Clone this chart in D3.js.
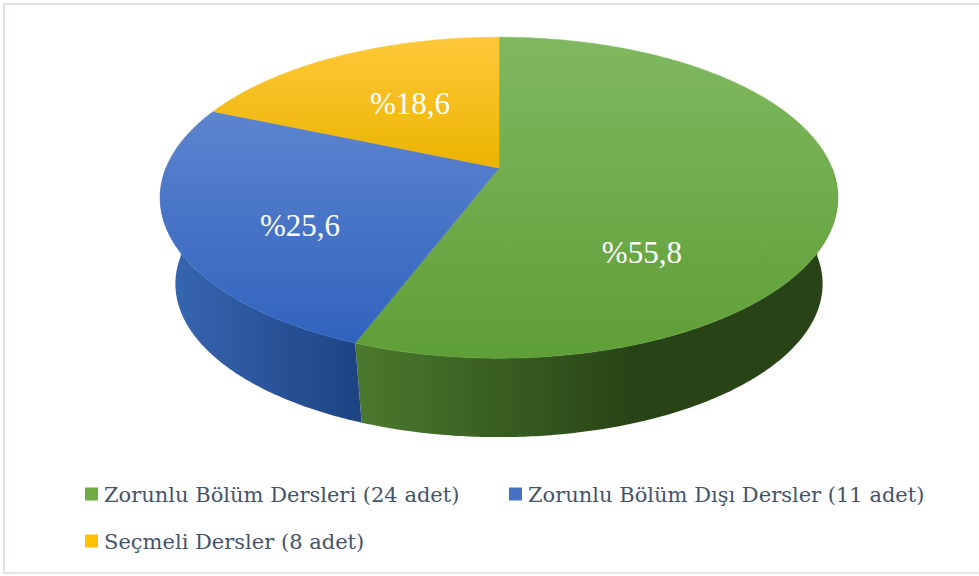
<!DOCTYPE html>
<html>
<head>
<meta charset="utf-8">
<script src="https://cdn.jsdelivr.net/npm/d3@7"></script>
<style>
  body { margin: 0; background: #fff; }
  svg { display: block; }
</style>
</head>
<body>
<div id="chart-area"></div>
<script>
// course types and counts
const categories = ["Zorunlu Bölüm Dersleri (24 adet)", "Zorunlu Bölüm Dışı Dersler (11 adet)", "Seçmeli Dersler (8 adet)"];
const counts = [24, 11, 8];
const percentLabels = ["%55,8", "%25,6", "%18,6"];

const topColors = [["#80b860", "#5f9f37"], ["#5c84cf", "#3163be"], ["#ffc83a", "#ebb400"]];
const sideColors = [["#4b7a2d", "#284417"], ["#3867b2", "#1e4484"], ["#c79500", "#9a7300"]];
const legendColors = ["#70ad47", "#4472c4", "#ffc000"];

const width = 979, height = 576;

// pie geometry (perspective ellipse)
const CX = 499, CY = 168, R = 333, B = 155, D = 87.5, Q = 0.955, P = 0.185;

function pt(a, bottom) {
    let u = Math.sin(a), v = -Math.cos(a);
    let s = 1 / (1 - P * v);
    let k = bottom ? Q : 1;
    return [CX + k * R * u * s, CY + (bottom ? D : 0) + k * B * v * s];
}

function arcPts(a0, a1, bottom) {
    let n = Math.max(2, Math.ceil((a1 - a0) / 0.01));
    let pts = [];
    for (let i = 0; i <= n; i++) pts.push(pt(a0 + (a1 - a0) * i / n, bottom));
    return pts;
}

let svg = d3.select("#chart-area").append("svg")
    .attr("width", width)
    .attr("height", height);

let defs = svg.append("defs");

// outer frame
svg.append("rect")
    .attr("x", 4).attr("y", 4)
    .attr("width", width + 10).attr("height", 569)
    .attr("fill", "#fff")
    .attr("stroke", "#dfe3ea")
    .attr("stroke-width", 2);

let pie = d3.pie().sort(null).value(d => d);
let arcs = pie(counts);

// gradients
arcs.forEach(function (d, i) {
    let g = defs.append("linearGradient")
        .attr("id", "top" + i)
        .attr("x1", 0).attr("y1", 0).attr("x2", 0).attr("y2", 1);
    g.append("stop").attr("offset", "0%").attr("stop-color", topColors[i][0]);
    g.append("stop").attr("offset", "100%").attr("stop-color", topColors[i][1]);

    let a0 = Math.max(d.startAngle, Math.PI / 2), a1 = Math.min(d.endAngle, 3 * Math.PI / 2);
    let xs = a0 < a1 ? [pt(a0, false)[0], pt(a1, false)[0]] : [0, width];
    let x1 = d3.min(xs), x2 = d3.max(xs);
    // the wall darkens quickly after the left edge, then stays flat
    if (x2 - x1 > 300) x2 = x1 + 0.58 * (x2 - x1);
    let s = defs.append("linearGradient")
        .attr("id", "side" + i)
        .attr("gradientUnits", "userSpaceOnUse")
        .attr("x1", x1).attr("y1", 0).attr("x2", x2).attr("y2", 0);
    s.append("stop").attr("offset", "0%").attr("stop-color", sideColors[i][0]);
    s.append("stop").attr("offset", "100%").attr("stop-color", sideColors[i][1]);
});

let line = d3.line();

// front side walls
let walls = svg.append("g").attr("class", "walls");
arcs.forEach(function (d, i) {
    let a0 = Math.max(d.startAngle, Math.PI / 2), a1 = Math.min(d.endAngle, 3 * Math.PI / 2);
    if (a0 >= a1) return;
    let pts = arcPts(a0, a1, false).concat(arcPts(a0, a1, true).reverse());
    walls.append("path")
        .attr("d", line(pts) + "Z")
        .attr("fill", "url(#side" + i + ")");
});

// top faces
let tops = svg.append("g").attr("class", "tops");
arcs.forEach(function (d, i) {
    let pts = [[CX, CY]].concat(arcPts(d.startAngle, d.endAngle, false));
    tops.append("path")
        .attr("d", line(pts) + "Z")
        .attr("fill", "url(#top" + i + ")")
        .attr("stroke", "url(#top" + i + ")")
        .attr("stroke-width", 0.6);
});

// percent labels, placed on a tilted label ellipse inside the top face
function labelPos(d) {
    let m = (d.startAngle + d.endAngle) / 2;
    return [CX - 23 + 0.527 * R * Math.sin(m) + 0.111 * R * Math.cos(m),
            CY + 39 - 0.69 * B * Math.cos(m) + 0.168 * B * Math.sin(m)];
}

svg.append("g").selectAll("text")
    .data(arcs)
    .enter().append("text")
    .attr("x", d => labelPos(d)[0])
    .attr("y", d => labelPos(d)[1])
    .attr("dy", "0.35em")
    .attr("text-anchor", "middle")
    .attr("fill", "#fff")
    .style("font-family", "'Liberation Serif', serif")
    .style("font-size", "31px")
    .text((d, i) => percentLabels[i]);

// legend
let legendPos = [[85, 494], [509, 494], [85, 541]];
let legend = svg.append("g").attr("class", "legend");
categories.forEach(function (c, i) {
    let item = legend.append("g")
        .attr("transform", "translate(" + legendPos[i][0] + "," + legendPos[i][1] + ")");
    item.append("rect")
        .attr("x", 0).attr("y", -6.5)
        .attr("width", 13).attr("height", 13)
        .attr("fill", legendColors[i]);
    item.append("text")
        .attr("x", 19).attr("y", 8)
        .attr("fill", "#44546a")
        .style("font-family", "'DejaVu Serif', serif")
        .style("font-size", "21px")
        .text(c);
});
</script>
</body>
</html>
